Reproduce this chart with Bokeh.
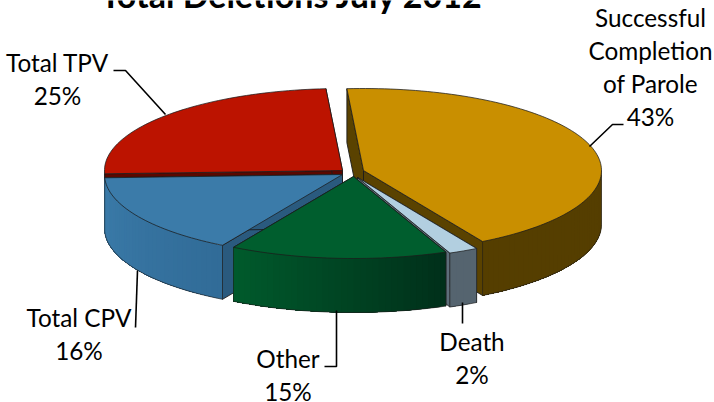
from math import sin, cos, radians
from bokeh.plotting import figure
from bokeh.models import Range1d
from bokeh.core.properties import value
from bokeh.embed import file_html
from bokeh.resources import INLINE

title = "Total Deletions July 2012"
categories = ["Successful\nCompletion\nof Parole", "Death", "Other", "Total CPV", "Total TPV"]
shares = [42.9, 2.0, 14.8, 16.0, 24.6]

# Layout / style, per slice (same order as the data)
apex = [(363, 170), (357, 177), (353, 176), (342, 174), (342, 170)]
top_col = ["#C98F00", "#B2CFE0", "#005E2E", "#3B7BA9", "#BC1300"]
rim_l = ["#553E00", "#55646F", "#00301A", "#316C98", "#5A0800"]   # colour toward the right end
rim_r = ["#553E00", "#55646F", "#005A2C", "#3B7BA9", "#5A0800"]   # colour toward the left end
face_col = ["#5A4200", "#5E6E7A", "#003A1E", "#2A5A7E", "#5A0800"]
label_xy = [(650, [16.5, 49.5, 82.5, 115.5]), (471.5, [340.5, 373.5]), (287.5, [357.5, 390.5]), (78.5, [316.5, 349.5]), (57, [61.5, 94.5])]
leaders = [[(623, 124), (612, 124), (589, 146)], [(462, 302), (462, 323)],
           [(336, 310), (336, 366), (324, 366)], [(137, 270), (135, 327)],
           [(113, 70), (125, 70), (165, 114)]]
A, B, DEPTH, ROT = 238, 82, 54, -4
DARK = "#1c1c1c"

p = figure(width=714, height=402, output_backend="svg", toolbar_location=None,
           x_range=Range1d(0, 714), y_range=Range1d(402, 0), min_border=0,
           margin=(0, 0, 0, 0), outline_line_color=None, background_fill_color="white")
p.axis.visible = False
p.grid.visible = False

total = sum(shares)
spans, cur = [], ROT
for s in shares:
    spans.append((cur, cur + s / total * 360))
    cur = spans[-1][1]


def pt(i, phi, dz=0):
    ax, ay = apex[i]
    t = radians(phi)
    return ax + A * sin(t), ay - B * cos(t) + dz


def mix(c1, c2, f):
    a = [int(c1[k:k + 2], 16) for k in (1, 3, 5)]
    b = [int(c2[k:k + 2], 16) for k in (1, 3, 5)]
    return "#%02x%02x%02x" % tuple(round(u + (v - u) * f) for u, v in zip(a, b))


def draw_slice(i):
    a0, a1 = spans[i]
    ax, ay = apex[i]
    # cut faces
    for phi in (a0, a1):
        ex, ey = pt(i, phi)
        p.patch([ax, ex, ex, ax], [ay, ey, ey + DEPTH, ay + DEPTH], fill_color=face_col[i],
                line_color=DARK, line_width=0.9)
    # outer rim (only its front half shows)
    lo, hi = max(a0, 90), min(a1, 270)
    if hi > lo:
        n = max(1, int((hi - lo) / 1.5))
        arc = [lo + (hi - lo) * k / n for k in range(n + 1)]
        for k in range(n):
            # each strip runs on to the far end, the next one paints over it: no seams
            part = arc[k:]
            c = mix(rim_l[i], rim_r[i], k / max(1, n - 1))
            xt = [pt(i, f)[0] for f in part]
            yt = [pt(i, f)[1] for f in part]
            p.patch(xt + xt[::-1], yt + [y + DEPTH for y in yt[::-1]], fill_color=c, line_color=None)
        p.line([pt(i, f, DEPTH)[0] for f in arc], [pt(i, f, DEPTH)[1] for f in arc], line_color=DARK, line_alpha=0.7, line_width=0.9)
        for f in (lo, hi):
            x, y = pt(i, f)
            p.line([x, x], [y, y + DEPTH], line_color=DARK, line_alpha=0.7, line_width=0.8)
    # top surface
    n = max(2, int((a1 - a0) / 1.5))
    arc = [a0 + (a1 - a0) * k / n for k in range(n + 1)]
    xs = [ax] + [pt(i, f)[0] for f in arc]
    ys = [ay] + [pt(i, f)[1] for f in arc]
    p.patch(xs, ys, fill_color=top_col[i], line_color=DARK, line_alpha=0.75, line_width=1)


for i in (4, 0, 3, 1, 2):
    draw_slice(i)

for seg in leaders:
    p.line([q[0] for q in seg], [q[1] for q in seg], line_color="black", line_width=1.6)

tx, ty, tt = [], [], []
for (cx, ylist), cat, s in zip(label_xy, categories, shares):
    for y, line in zip(ylist, cat.split("\n") + [f"{round(s)}%"]):
        tx.append(cx); ty.append(y); tt.append(line)
p.text(tx, ty, text=tt, text_font=value("Lato"), text_font_size="24.3px", text_color="black",
       text_align="center", text_baseline="middle")
p.text([291.5], [-6.5], text=[title], text_font=value("Lato"), text_font_style="bold", text_font_size="34px",
       text_color="black", text_align="center", text_baseline="alphabetic")

open("out.html", "w").write(file_html(p, INLINE))
